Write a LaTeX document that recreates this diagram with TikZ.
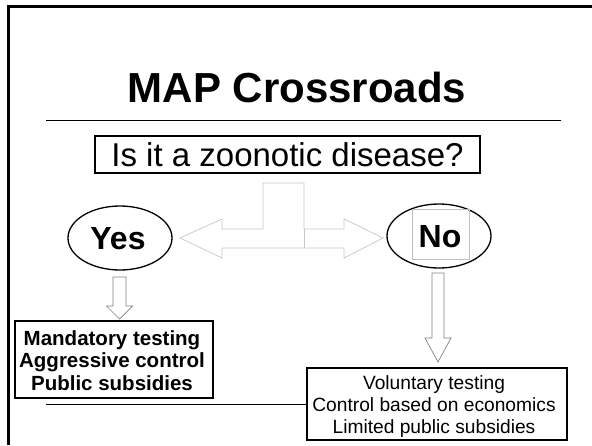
\documentclass[tikz,border=0pt]{standalone}
\usepackage{fontspec}
\setmainfont{Liberation Sans}
\usetikzlibrary{shapes.geometric}
\begin{document}
\begin{tikzpicture}[x=1pt,y=-1pt,
  framebox/.style={draw, line width=1.5pt, inner sep=0pt},
  oval/.style={draw, ellipse, line width=1.3pt, minimum width=104pt, minimum height=64pt, inner sep=0pt},
  bigarrow/.style={draw=black!22, line width=0.7pt, line join=miter},
  downarrow/.style={draw=black!50, line width=0.7pt},
  txt/.style={anchor=base, inner sep=0pt},
  titlefont/.style={font=\bfseries\fontsize{42}{44}\selectfont},
  qfont/.style={font=\fontsize{33}{36}\selectfont},
  ynfont/.style={font=\bfseries\fontsize{32}{34}\selectfont},
  lfont/.style={font=\bfseries\fontsize{20.5}{22}\selectfont},
  rfont/.style={font=\fontsize{19.2}{22}\selectfont}]
\useasboundingbox (0,0) rectangle (592,445);
\fill[white] (0,0) rectangle (592,445);
% frame
\draw[line width=3pt] (8,445) -- (8,6) -- (592,6);
% title
\node[txt, titlefont] (title) at (297,102) {MAP Crossroads};
\coordinate (ruleL) at (46,120);
\coordinate (ruleR) at (561,120);
\draw[line width=1pt] (ruleL) -- (ruleR);
% question
\node[framebox, minimum width=385pt, minimum height=37pt] (q) at (287.5,154.5) {};
\node[txt, qfont] (qtext) at (287.5,166.5) {Is it a zoonotic disease?};
% yes / no
\node[oval] (yes) at (120,238) {};
\node[txt, ynfont] (yestext) at (118,249.5) {Yes};
\node[oval] (no) at (439,236) {};
\node[draw=black!25, line width=0.6pt, minimum width=57pt, minimum height=50pt, inner sep=0pt] (nobg) at (441,234) {};
\node[txt, ynfont] (notext) at (440,247.5) {No};
% double block arrow
\draw[bigarrow] (263,183) -- (304,183) -- (304,229) -- (344,229) -- (344,219) -- (383,238)
  -- (344,258) -- (344,248) -- (222,248) -- (222,258) -- (180,238) -- (222,219) -- (222,229)
  -- (263,229) -- cycle;
\draw[bigarrow] (304,229) -- (304,248);
% down arrows
\draw[downarrow] (113,277) -- (126,277) -- (126,306) -- (132.5,306) -- (119.5,319) -- (106.5,306) -- (113,306) -- cycle;
\draw[downarrow] (432,273) -- (444,273) -- (444,338) -- (451,338) -- (438,362) -- (425,338) -- (432,338) -- cycle;
% left box
\node[framebox, minimum width=198pt, minimum height=77pt] (yesbox) at (114,359.5) {};
\node[txt, lfont] (l1) at (112,345) {Mandatory testing};
\node[txt, lfont] (l2) at (112,367.5) {Aggressive control};
\node[txt, lfont] (l3) at (112,390) {Public subsidies};
% right box
\node[framebox, minimum width=260pt, minimum height=72pt] (nobox) at (437,404) {};
\node[txt, rfont] (r1) at (434,389) {Voluntary testing};
\node[txt, rfont] (r2) at (434,411) {Control based on economics};
\node[txt, rfont] (r3) at (434,433) {Limited public subsidies};
% bottom line
\coordinate (hl) at (46,404);
\draw[line width=1pt] (hl) -- (nobox.west);
\end{tikzpicture}
\end{document}
